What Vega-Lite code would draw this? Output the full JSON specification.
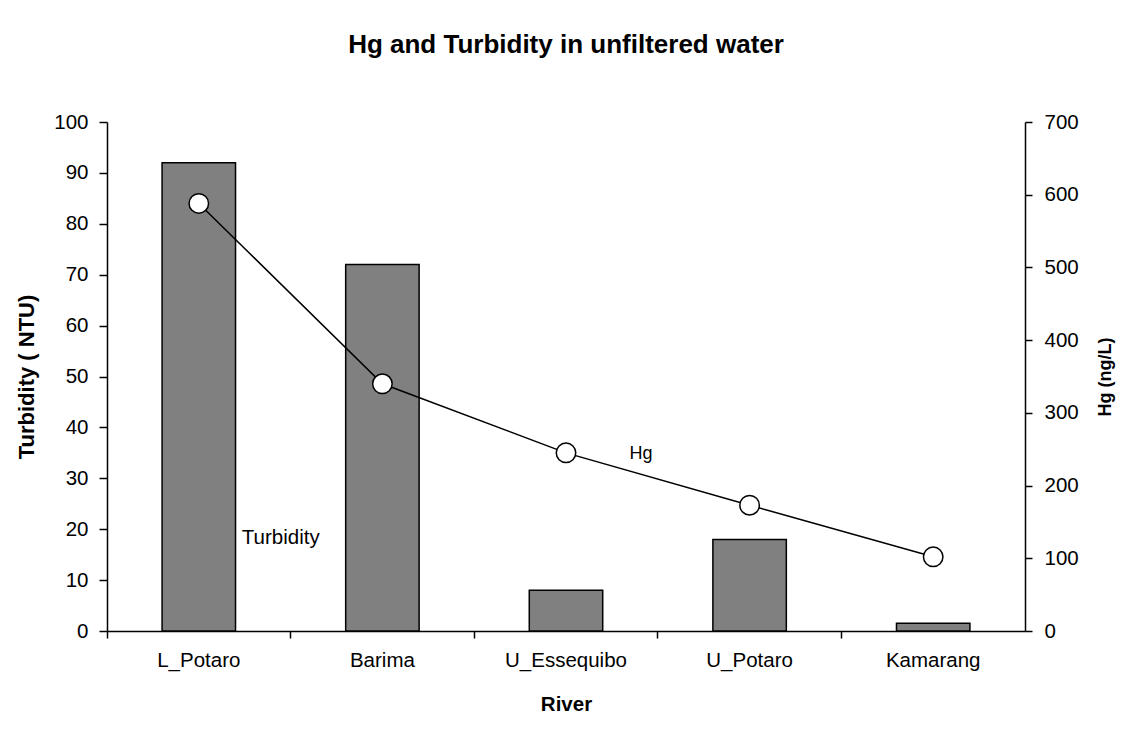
{
  "$schema": "https://vega.github.io/schema/vega-lite/v6.json",
  "width": 918,
  "height": 509,
  "autosize": {"type": "none"},
  "padding": {"left": 107, "top": 122, "right": 109, "bottom": 104},
  "background": "white",
  "config": {
    "view": {"stroke": null},
    "font": "Liberation Sans",
    "axis": {
      "grid": false,
      "domainColor": "black",
      "domainWidth": 1.5,
      "tickColor": "black",
      "tickWidth": 1.5,
      "tickSize": 8,
      "labelColor": "black",
      "titleColor": "black",
      "labelFont": "Liberation Sans",
      "titleFont": "Liberation Sans",
      "labelFontSize": 20.5,
      "titleFontSize": 21,
      "titleFontWeight": "bold"
    }
  },
  "title": {
    "text": "Hg and Turbidity in unfiltered water",
    "font": "Liberation Sans",
    "fontSize": 26,
    "fontWeight": "bold",
    "color": "black",
    "anchor": "middle",
    "offset": 54
  },
  "data": {
    "values": [
      {"River": "L_Potaro", "Turbidity": 92, "Hg": 588},
      {"River": "Barima", "Turbidity": 72, "Hg": 340},
      {"River": "U_Essequibo", "Turbidity": 8, "Hg": 245},
      {"River": "U_Potaro", "Turbidity": 18, "Hg": 173},
      {"River": "Kamarang", "Turbidity": 1.5, "Hg": 102}
    ]
  },
  "layer": [
    {
      "layer": [
        {
          "mark": {"type": "bar", "fill": "#808080", "stroke": "black", "strokeWidth": 1.5, "width": {"band": 0.4}},
          "encoding": {
            "x": {
              "field": "River",
              "type": "nominal",
              "sort": null,
              "scale": {"domain": ["L_Potaro", "Barima", "U_Essequibo", "U_Potaro", "Kamarang"], "paddingInner": 0, "paddingOuter": 0},
              "axis": {"title": "River", "labelAngle": 0, "bandPosition": 0, "tickSize": 7, "labelPadding": 12, "titlePadding": 24, "titleFontSize": 20.5}
            },
            "y": {
              "field": "Turbidity",
              "type": "quantitative",
              "scale": {"domain": [0, 100], "nice": false},
              "axis": {"orient": "left", "title": "Turbidity ( NTU)", "values": [0, 10, 20, 30, 40, 50, 60, 70, 80, 90, 100], "labelPadding": 11, "titlePadding": 15, "titleFontSize": 22}
            }
          }
        },
        {
          "data": {"values": [{"River": "L_Potaro", "Turbidity": 18.3, "label": "Turbidity"}]},
          "mark": {"type": "text", "align": "left", "baseline": "middle", "dx": 43, "font": "Liberation Sans", "fontSize": 20.5, "color": "black"},
          "encoding": {
            "x": {"field": "River", "type": "nominal", "sort": null},
            "y": {"field": "Turbidity", "type": "quantitative"},
            "text": {"field": "label"}
          }
        }
      ]
    },
    {
      "layer": [
        {
          "mark": {"type": "line", "color": "black", "strokeWidth": 1.5},
          "encoding": {
            "x": {"field": "River", "type": "nominal", "sort": null},
            "y": {
              "field": "Hg",
              "type": "quantitative",
              "scale": {"domain": [0, 700], "nice": false},
              "axis": {"orient": "right", "title": "Hg (ng/L)", "values": [0, 100, 200, 300, 400, 500, 600, 700], "tickSize": 7, "labelPadding": 12, "titlePadding": 18, "titleFontSize": 18, "titleAngle": 270, "titleBaseline": "top"}
            }
          }
        },
        {
          "mark": {"type": "point", "filled": true, "fill": "white", "stroke": "black", "strokeWidth": 1.5, "size": 380, "opacity": 1},
          "encoding": {
            "x": {"field": "River", "type": "nominal", "sort": null},
            "y": {"field": "Hg", "type": "quantitative"}
          }
        },
        {
          "data": {"values": [{"River": "U_Essequibo", "Hg": 243.4, "label": "Hg"}]},
          "mark": {"type": "text", "align": "center", "baseline": "middle", "dx": 75, "font": "Liberation Sans", "fontSize": 18, "color": "black"},
          "encoding": {
            "x": {"field": "River", "type": "nominal", "sort": null},
            "y": {"field": "Hg", "type": "quantitative"},
            "text": {"field": "label"}
          }
        }
      ]
    }
  ],
  "resolve": {"scale": {"y": "independent"}}
}
